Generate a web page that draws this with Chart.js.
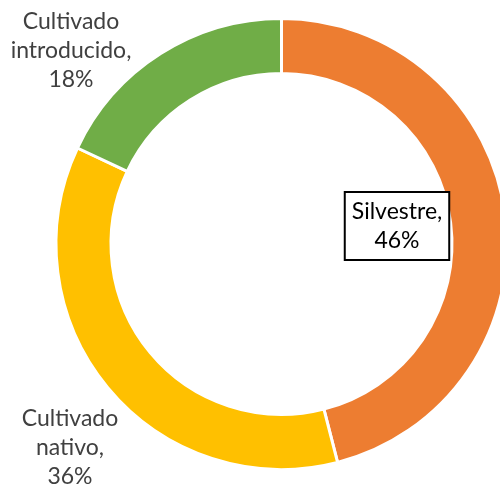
<!DOCTYPE html>
<html lang="es">
<head>
<meta charset="UTF-8">
<title>Origen</title>
<script src="https://cdn.jsdelivr.net/npm/chart.js@4.4.0/dist/chart.umd.min.js"></script>
<style>
    *{margin:0;padding:0;box-sizing:border-box;}
    html,body{width:500px;height:484px;overflow:hidden;background:#fff;}
    #box{position:absolute;left:0;top:0;width:563px;height:488px;}
</style>
</head>
<body>
<div id="box"><canvas id="mycanvas"></canvas></div>
<script>
    // datos
    const categories = ["Silvestre", "Cultivado nativo", "Cultivado introducido"];
    const percents = [46, 36, 18];
    const colors = ["#ED7D31", "#FFC000", "#70AD47"];
    // texto de las etiquetas, como en el original
    const labelLines = [["Silvestre,", "46%"], ["Cultivado", "nativo,", "36%"], ["Cultivado", "introducido,", "18%"]];
    // donde va cada etiqueta respecto al centro del anillo
    const labelOffsets = [[115.5, -18], [-211.5, 204], [-210.5, -193]];

    const labelPlugin = {
        id: "labels",
        afterDraw(chart){
            const ctx = chart.ctx;
            const meta = chart.getDatasetMeta(0);
            ctx.save();
            ctx.font = "23px Lato, 'Open Sans', sans-serif";
            ctx.textAlign = "center";
            ctx.textBaseline = "middle";
            const lh = 29;
            meta.data.forEach(function(arc, i){
                const lines = labelLines[i];
                const cx = arc.x + labelOffsets[i][0];
                const cy = arc.y + labelOffsets[i][1];
                const top = cy - (lines.length - 1) * lh / 2;
                if(i == 0){ // Silvestre lleva recuadro
                    let w = 0;
                    lines.forEach(function(t){ w = Math.max(w, ctx.measureText(t).width); });
                    const bw = w + 14, bh = lines.length * lh + 10;
                    ctx.fillStyle = "#fff";
                    ctx.fillRect(cx - bw/2, cy - bh/2, bw, bh);
                    ctx.strokeStyle = "#000";
                    ctx.lineWidth = 2;
                    ctx.strokeRect(cx - bw/2, cy - bh/2, bw, bh);
                    ctx.fillStyle = "#000";
                } else {
                    ctx.fillStyle = "#404040";
                }
                lines.forEach(function(t, j){
                    ctx.fillText(t, cx, top + j * lh);
                });
            });
            ctx.restore();
        }
    };

    new Chart(document.getElementById("mycanvas"), {
        type: "doughnut",
        plugins: [labelPlugin],
        data: {
            labels: categories,
            datasets: [{
                data: percents,
                backgroundColor: colors,
                borderColor: "#fff",
                borderWidth: 3
            }]
        },
        options: {
            responsive: true,
            maintainAspectRatio: false,
            animation: false,
            cutout: "75.6%",
            layout: { padding: 17 },
            plugins: {
                legend: { display: false },
                tooltip: { enabled: false }
            }
        }
    });
</script>
</body>
</html>
